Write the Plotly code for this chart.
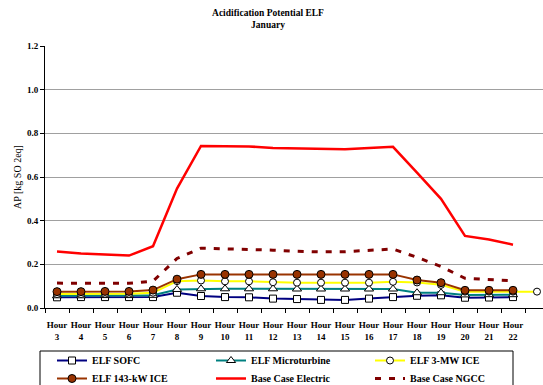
import plotly.graph_objects as go

# Hourly categories (the axis carries one extra, unlabelled slot at the end)
hours = [f"Hour<br>{h}" for h in range(3, 23)]
tick_labels = hours + [""]

sofc = [0.049, 0.050, 0.050, 0.050, 0.050, 0.070, 0.055, 0.050, 0.049, 0.043,
        0.041, 0.037, 0.037, 0.043, 0.050, 0.056, 0.058, 0.047, 0.048, 0.050]
microturbine = [0.056, 0.056, 0.057, 0.057, 0.058, 0.085, 0.088, 0.088, 0.088, 0.088,
                0.087, 0.087, 0.087, 0.087, 0.087, 0.070, 0.070, 0.060, 0.061, 0.061]
ice_3mw = [0.064, 0.064, 0.065, 0.065, 0.070, 0.123, 0.126, 0.122, 0.122, 0.118,
           0.116, 0.116, 0.116, 0.116, 0.120, 0.117, 0.106, 0.075, 0.075, 0.075, 0.075]
ice_143kw = [0.075, 0.075, 0.076, 0.076, 0.082, 0.132, 0.154, 0.154, 0.154, 0.154,
             0.154, 0.154, 0.154, 0.154, 0.154, 0.128, 0.116, 0.081, 0.081, 0.081]
base_electric = [0.259, 0.250, 0.245, 0.240, 0.283, 0.547, 0.742, 0.740, 0.740, 0.733,
                 0.730, 0.727, 0.727, 0.733, 0.738, 0.620, 0.500, 0.330, 0.314, 0.290]
base_ngcc = [0.114, 0.113, 0.113, 0.113, 0.123, 0.227, 0.274, 0.272, 0.270, 0.265,
             0.260, 0.257, 0.258, 0.265, 0.270, 0.232, 0.190, 0.136, 0.130, 0.125]

y_ticks = [0, 0.2, 0.4, 0.6, 0.8, 1.0, 1.2]

FONT = "Liberation Serif"

fig = go.Figure()

def xs(vals):
    return list(range(len(vals)))

# first legend row: legend, second row: legend2
fig.add_trace(go.Scatter(
    x=xs(sofc), y=sofc, name="ELF SOFC", mode="lines+markers", legend="legend",
    line=dict(color="#000080", width=2),
    marker=dict(symbol="square", size=7, color="white", line=dict(color="black", width=1))))
fig.add_trace(go.Scatter(
    x=xs(microturbine), y=microturbine, name="ELF Microturbine", mode="lines+markers",
    legend="legend",
    line=dict(color="#008080", width=2),
    marker=dict(symbol="triangle-up", size=8, color="white", line=dict(color="black", width=1))))
fig.add_trace(go.Scatter(
    x=xs(ice_3mw), y=ice_3mw, name="ELF 3-MW ICE", mode="lines+markers", legend="legend",
    line=dict(color="#FFFF00", width=2),
    marker=dict(symbol="circle", size=7, color="white", line=dict(color="black", width=1))))
fig.add_trace(go.Scatter(
    x=xs(ice_143kw), y=ice_143kw, name="ELF 143-kW ICE", mode="lines+markers",
    legend="legend2",
    line=dict(color="#993300", width=2),
    marker=dict(symbol="circle", size=8, color="#993300", line=dict(color="black", width=1))))
fig.add_trace(go.Scatter(
    x=xs(base_electric), y=base_electric, name="Base Case Electric", mode="lines",
    legend="legend2",
    line=dict(color="#FF0000", width=2.5)))
fig.add_trace(go.Scatter(
    x=xs(base_ngcc), y=base_ngcc, name="Base Case NGCC", mode="lines", legend="legend2",
    line=dict(color="#800000", width=3, dash="6px,8px")))

W, H = 543, 385
ML, MR, MT, MB = 45, 0, 46, 77
pw = W - ML - MR
ph = H - MT - MB

def px_x(p):
    return (p - ML) / pw

def px_y(p):
    return (H - MB - p) / ph

# legend frame
fig.add_shape(type="rect", xref="paper", yref="paper",
              x0=px_x(40), x1=px_x(513), y0=px_y(400), y1=px_y(351),
              line=dict(color="black", width=1), fillcolor="rgba(0,0,0,0)")

legend_style = dict(orientation="h", x=px_x(52), xanchor="left", yanchor="top",
                    entrywidth=114, entrywidthmode="pixels",
                    bgcolor="rgba(0,0,0,0)", borderwidth=0,
                    font=dict(family=FONT, size=10, color="black", weight="bold"),
                    traceorder="normal", itemwidth=30)

fig.update_layout(
    width=W, height=H,
    margin=dict(l=ML, r=MR, t=MT, b=MB, pad=0, autoexpand=False),
    paper_bgcolor="white", plot_bgcolor="white",
    font=dict(family=FONT, color="black", size=9),
    title=dict(text="Acidification Potential ELF<br>January",
               x=268 / W, xanchor="center", y=1 - 16 / H, yanchor="top",
               font=dict(family=FONT, size=9.5, color="black", weight="bold")),
    showlegend=True,
    legend=dict(legend_style, y=px_y(346)),
    legend2=dict(legend_style, y=px_y(364)),
    xaxis=dict(range=[-0.5, 20.25], tickmode="array",
               tickvals=list(range(len(tick_labels))), ticktext=tick_labels,
               ticks="outside", ticklen=8, tickcolor="rgba(0,0,0,0)",
               showgrid=False, zeroline=False,
               showline=True, linecolor="black", linewidth=1,
               tickfont=dict(family=FONT, size=9, color="black", weight="bold"),
               minor=dict(tickmode="linear", tick0=0.5, dtick=1, ticks="outside",
                          ticklen=4, tickcolor="black", showgrid=False),
               fixedrange=True),
    yaxis=dict(range=[0, 1.2], tickmode="array", tickvals=y_ticks,
               ticktext=[f"{v:.1f}" for v in y_ticks],
               ticks="outside", ticklen=4, tickcolor="black",
               showgrid=True, gridcolor="#a0a0a0", gridwidth=1,
               zeroline=False, showline=True, linecolor="black", linewidth=1,
               tickfont=dict(family=FONT, size=9, color="black", weight="bold"),
               title=dict(text="AP [kg SO 2eq]", standoff=3,
                          font=dict(family=FONT, size=10, color="black")),
               fixedrange=True),
)

fig.write_html("out.html")
